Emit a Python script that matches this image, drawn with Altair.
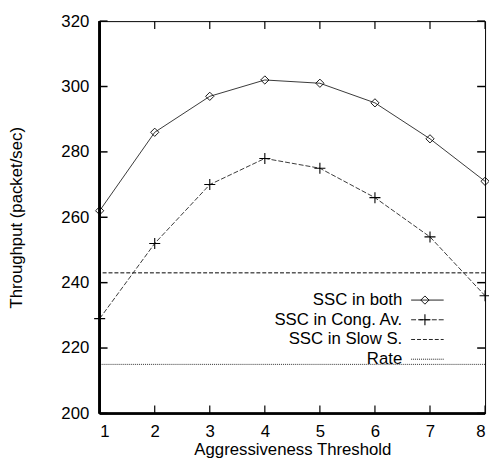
import altair as alt
import pandas as pd

# ---- data ----
x_vals = [1, 2, 3, 4, 5, 6, 7, 8]
ssc_both = [262, 286, 297, 302, 301, 295, 284, 271]
ssc_cong = [229, 252, 270, 278, 275, 266, 254, 236]
ssc_slow = 243
rate = 215
legend_labels = ["SSC in both", "SSC in Cong. Av.", "SSC in Slow S.", "Rate"]
y_ticks = [200, 220, 240, 260, 280, 300, 320]

W, H = 391, 398
FONT = "Liberation Sans"
FS = 17
INK = "#222222"

df = pd.DataFrame({"x": x_vals, "both": ssc_both, "cong": ssc_cong})
hdf = pd.DataFrame({"slow": [ssc_slow], "rate": [rate]})
ydf = pd.DataFrame({"v": y_ticks})
xdf = pd.DataFrame({"v": x_vals})
leg = pd.DataFrame({"label": legend_labels, "i": list(range(len(legend_labels)))})

common_axis = dict(ticks=False, domain=False, grid=False, labelFont=FONT, titleFont=FONT,
                   labelFontSize=FS, titleFontSize=FS, titleFontWeight="normal",
                   labelColor="black", titleColor="black", format="d")
xscale = alt.Scale(domain=[1, 8], nice=False, zero=False)
yscale = alt.Scale(domain=[200, 320], nice=False, zero=False)
xaxis = alt.Axis(values=x_vals, title="Aggressiveness Threshold", labelPadding=10,
                 titlePadding=3, **common_axis)
yaxis = alt.Axis(values=y_ticks, title="Throughput (packet/sec)", labelPadding=11,
                 titlePadding=36, **common_axis)

X = alt.X("x:Q", scale=xscale, axis=xaxis)

DIAMOND = 70
PLUS = 125
PLUS_PATH = "M-1,0L1,0M0,-1L0,1"

line_both = alt.Chart(df).mark_line(color=INK, strokeWidth=0.9).encode(
    x=X, y=alt.Y("both:Q", scale=yscale, axis=yaxis))
pts_both = alt.Chart(df).mark_point(shape="diamond", filled=False, color="black",
                                    size=DIAMOND, strokeWidth=0.9, opacity=1).encode(
    x=X, y=alt.Y("both:Q", scale=yscale, axis=yaxis))
line_cong = alt.Chart(df).mark_line(color=INK, strokeWidth=0.9, strokeDash=[5, 2]).encode(
    x=X, y=alt.Y("cong:Q", scale=yscale, axis=yaxis))
pts_cong = alt.Chart(df).mark_point(shape=PLUS_PATH, filled=False, color="black",
                                    size=PLUS, strokeWidth=1.1, opacity=1).encode(
    x=X, y=alt.Y("cong:Q", scale=yscale, axis=yaxis))

rule_slow = alt.Chart(hdf).mark_rule(color="black", strokeWidth=1, strokeDash=[4, 2]).encode(
    y=alt.Y("slow:Q", scale=yscale, axis=yaxis))
rule_rate = alt.Chart(hdf).mark_rule(color="#333333", strokeWidth=1, strokeDash=[1, 1]).encode(
    y=alt.Y("rate:Q", scale=yscale, axis=yaxis))

# inward ticks on all four sides
TL = 8
yt_left = alt.Chart(ydf).mark_rule(color="black", strokeWidth=1.5).encode(
    y=alt.Y("v:Q", scale=yscale, axis=yaxis), x=alt.value(0), x2=alt.value(TL))
yt_right = alt.Chart(ydf).mark_rule(color="black", strokeWidth=1.5).encode(
    y=alt.Y("v:Q", scale=yscale, axis=yaxis), x=alt.value(W - TL), x2=alt.value(W))
xt_bottom = alt.Chart(xdf).mark_rule(color="black", strokeWidth=1.2).encode(
    x=alt.X("v:Q", scale=xscale, axis=xaxis), y=alt.value(H - TL), y2=alt.value(H))
xt_top = alt.Chart(xdf).mark_rule(color="black", strokeWidth=1.2).encode(
    x=alt.X("v:Q", scale=xscale, axis=xaxis), y=alt.value(0), y2=alt.value(TL))

# frame (left/bottom slightly heavier, like the reference)
left_edge = alt.Chart(ydf).mark_rule(color="black", strokeWidth=2).encode(
    x=alt.value(0), y=alt.value(0), y2=alt.value(H))
bottom_edge = alt.Chart(ydf).mark_rule(color="black", strokeWidth=1.5).encode(
    x=alt.value(0), x2=alt.value(W), y=alt.value(H))

# legend (labels on the left, samples on the right, as in gnuplot)
leg_base = alt.Chart(leg).transform_calculate(py="283 + datum.i * 20")
leg_text = leg_base.mark_text(align="right", baseline="middle", fontSize=FS, font=FONT,
                              color="black").encode(
    x=alt.value(307), y=alt.Y("py:Q", scale=None), text="label:N")
dashes = [None, [5, 2], [4, 2], [1, 1]]
leg_layers = []
for k, d in enumerate(dashes):
    kw = {"color": INK, "strokeWidth": 1}
    if d is not None:
        kw["strokeDash"] = d
    leg_layers.append(
        leg_base.transform_filter(f"datum.i == {k}").mark_rule(**kw).encode(
            x=alt.value(316), x2=alt.value(349), y=alt.Y("py:Q", scale=None)))
leg_pt0 = leg_base.transform_filter("datum.i == 0").mark_point(
    shape="diamond", filled=False, color="black", size=DIAMOND, strokeWidth=0.9,
    opacity=1).encode(x=alt.value(330), y=alt.Y("py:Q", scale=None))
leg_pt1 = leg_base.transform_filter("datum.i == 1").mark_point(
    shape=PLUS_PATH, filled=False, color="black", size=PLUS, strokeWidth=1.1,
    opacity=1).encode(x=alt.value(330), y=alt.Y("py:Q", scale=None))

chart = alt.layer(
    rule_slow, rule_rate, line_both, line_cong, pts_both, pts_cong,
    yt_left, yt_right, xt_bottom, xt_top, left_edge, bottom_edge,
    leg_text, *leg_layers, leg_pt0, leg_pt1,
).properties(
    width=W, height=H,
    background="white",
    autosize=alt.AutoSizeParams(type="none"),
    padding={"left": 93, "top": 10, "right": 4, "bottom": 48},
).configure_view(
    stroke="black", strokeWidth=1
)

chart.save("out.html", embed_options={"renderer": "svg", "actions": False})
